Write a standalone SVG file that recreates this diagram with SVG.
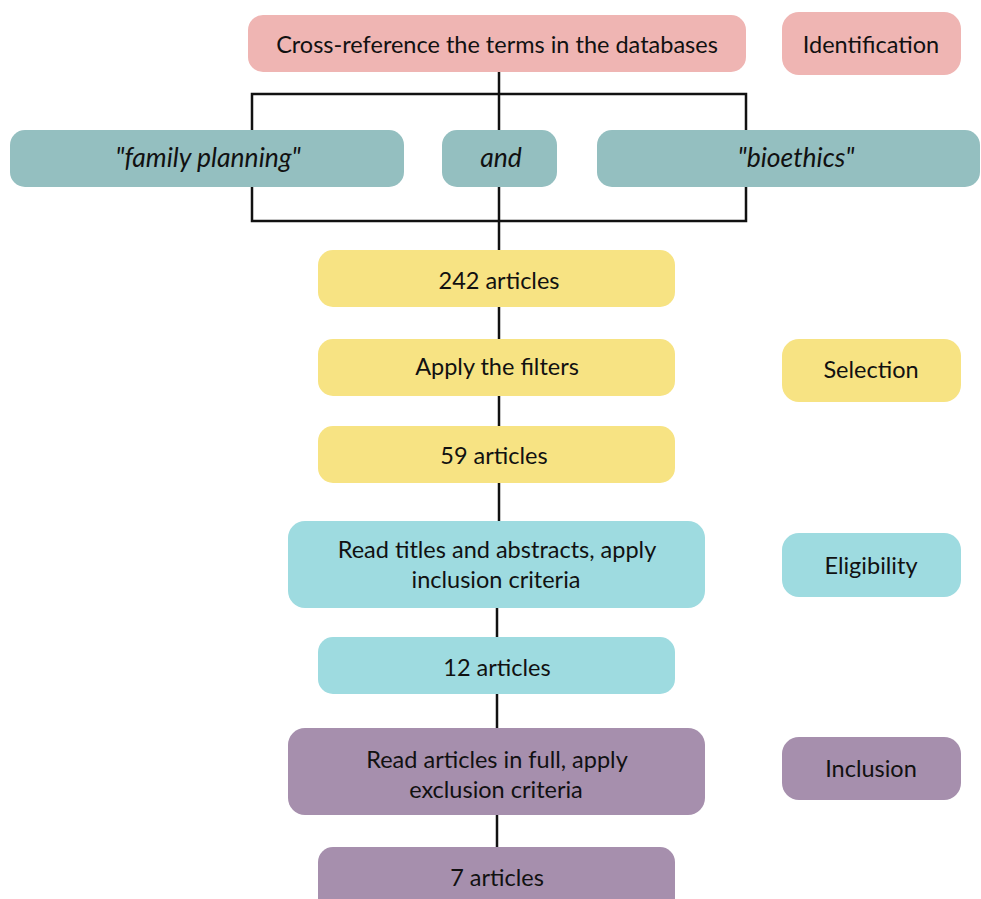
<svg xmlns="http://www.w3.org/2000/svg" width="981" height="899" viewBox="0 0 981 899">
<style>
text{font-family:Lato,"Liberation Sans",sans-serif;font-size:23.5px;fill:#111;text-anchor:middle;dominant-baseline:central}
.it{font-style:italic;font-size:26.5px}
.pink{fill:#EFB5B3}.teal{fill:#94BFC0}.yel{fill:#F7E383}.cyan{fill:#9EDBE0}.pur{fill:#A68FAD}
.c{stroke:#111;stroke-width:2.5;fill:none}
</style>
<g id="connectors">
<line class="c" x1="499" y1="72" x2="499" y2="250"/>
<polyline class="c" points="252,130 252,94 746,94 746,130"/>
<polyline class="c" points="252,187 252,221 746,221 746,187"/>
<line class="c" x1="499" y1="307" x2="499" y2="339"/>
<line class="c" x1="499" y1="396" x2="499" y2="426"/>
<line class="c" x1="499" y1="483" x2="499" y2="521"/>
<line class="c" x1="497" y1="608" x2="497" y2="637"/>
<line class="c" x1="497" y1="694" x2="497" y2="728"/>
<line class="c" x1="497" y1="815" x2="497" y2="847"/>
</g>
<g id="n-cross"><rect class="pink" x="248" y="15" width="498" height="57" rx="15"/><text x="497" y="44">Cross-reference the terms in the databases</text></g>
<g id="n-identification"><rect class="pink" x="782" y="12" width="179" height="63" rx="17"/><text x="871" y="44">Identification</text></g>
<g id="n-family"><rect class="teal" x="10" y="130" width="394" height="57" rx="15"/><text class="it" x="208" y="157">"family planning"</text></g>
<g id="n-and"><rect class="teal" x="442" y="130" width="115" height="57" rx="15"/><text class="it" x="501" y="157">and</text></g>
<g id="n-bioethics"><rect class="teal" x="597" y="130" width="383" height="57" rx="15"/><text class="it" x="796" y="157">"bioethics"</text></g>
<g id="n-242"><rect class="yel" x="318" y="250" width="357" height="57" rx="15"/><text x="499" y="280">242 articles</text></g>
<g id="n-filters"><rect class="yel" x="318" y="339" width="357" height="57" rx="15"/><text x="497" y="366">Apply the filters</text></g>
<g id="n-selection"><rect class="yel" x="782" y="339" width="179" height="63" rx="17"/><text x="871" y="369">Selection</text></g>
<g id="n-59"><rect class="yel" x="318" y="426" width="357" height="57" rx="15"/><text x="494" y="455">59 articles</text></g>
<g id="n-titles"><rect class="cyan" x="288" y="521" width="417" height="87" rx="17"/><text x="497" y="549">Read titles and abstracts, apply</text><text x="496" y="579">inclusion criteria</text></g>
<g id="n-eligibility"><rect class="cyan" x="782" y="533" width="179" height="64" rx="17"/><text x="871" y="565">Eligibility</text></g>
<g id="n-12"><rect class="cyan" x="318" y="637" width="357" height="57" rx="15"/><text x="497" y="667">12 articles</text></g>
<g id="n-full"><rect class="pur" x="288" y="728" width="417" height="87" rx="17"/><text x="497" y="759">Read articles in full, apply</text><text x="496" y="789">exclusion criteria</text></g>
<g id="n-inclusion"><rect class="pur" x="782" y="737" width="179" height="63" rx="17"/><text x="871" y="768">Inclusion</text></g>
<g id="n-7"><rect class="pur" x="318" y="847" width="357" height="70" rx="15"/><text x="497" y="877">7 articles</text></g>
</svg>
